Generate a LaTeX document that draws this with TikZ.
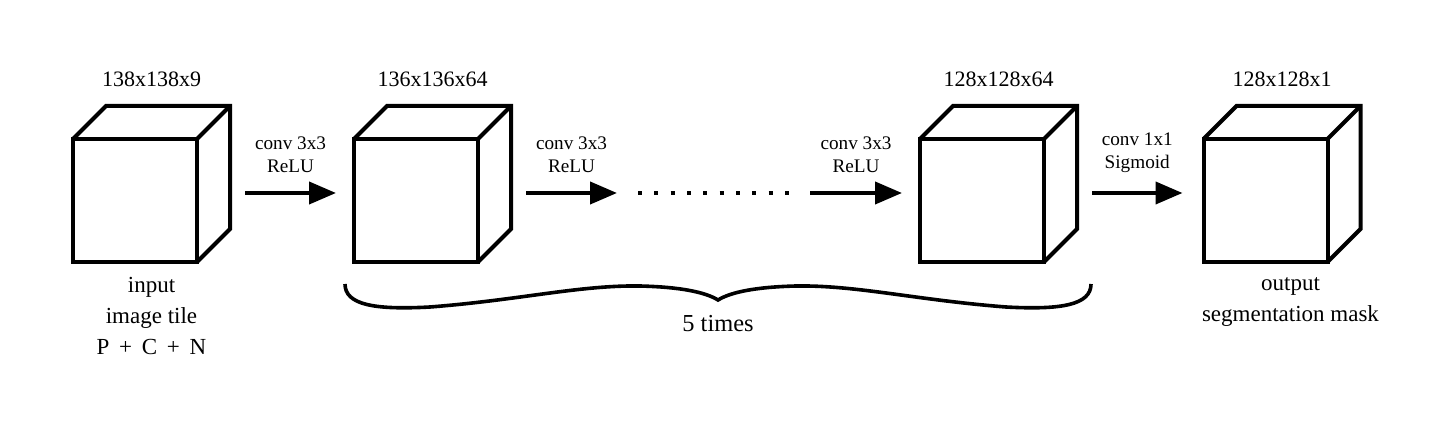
\documentclass[tikz,border=0pt]{standalone}
\usepackage{fontspec}
\setmainfont{Liberation Serif}
\usetikzlibrary{arrows.meta,calc}
\newcommand{\mycube}[3]{%
  \node[face] (#1) at (#2,#3) {};
  \draw[edge3d] (#1.north west) -- ++(33,-33) -- ++(124,0) -- ++(0,123) -- (#1.south east);
  \draw[edge3d] (#1.north east) -- ++(33,-33);
}
\begin{document}
\begin{tikzpicture}[x=0.5pt,y=-0.5pt,
  face/.style={draw,line width=2pt,minimum width=62pt,minimum height=61.5pt,inner sep=0pt,outer sep=0pt},
  edge3d/.style={line width=2pt},
  arr/.style={line width=2pt,-{Triangle[length=13.5pt,width=11pt]}},
  dots/.style={line width=2pt,dash pattern=on 2pt off 6.17pt},
  dimlbl/.style={font=\fontsize{11}{13}\selectfont,anchor=base,inner sep=0pt},
  oplbl/.style={font=\fontsize{9.6}{11.5}\selectfont,align=center,inner sep=0pt,above=9pt},
  sublbl/.style={font=\fontsize{11.5}{15.5}\selectfont,align=center,inner sep=0pt,anchor=north},
  bracestyle/.style={line width=1.8pt}
]
\useasboundingbox (0,0) rectangle (1449,426);

\mycube{c1}{135}{200.5}
\mycube{c2}{416}{200.5}
\mycube{c3}{982}{200.5}
\mycube{c4}{1265.5}{200.5}

\node[dimlbl] (d1) at ($(c1.north)+(16.5,-52)$) {138x138x9};
\node[dimlbl] (d2) at ($(c2.north)+(16.5,-52)$) {136x136x64};
\node[dimlbl] (d3) at ($(c3.north)+(16.5,-52)$) {128x128x64};
\node[dimlbl] (d4) at ($(c4.north)+(16.5,-52)$) {128x128x1};

\coordinate (a1s) at ($(c1.east)+(48,-7.5)$);
\coordinate (a1e) at ($(c2.west)+(-18,-7.5)$);
\coordinate (a2s) at ($(c2.east)+(48,-7.5)$);
\coordinate (a2e) at ($(c2.east)+(139,-7.5)$);
\coordinate (dts) at ($(c2.east)+(160,-7.5)$);
\coordinate (dte) at ($(c3.west)+(-130,-7.5)$);
\coordinate (a3s) at ($(c3.west)+(-110,-7.5)$);
\coordinate (a3e) at ($(c3.west)+(-18,-7.5)$);
\coordinate (a4s) at ($(c3.east)+(48,-7.5)$);
\coordinate (a4e) at ($(c4.west)+(-21,-7.5)$);

\draw[arr] (a1s) -- node[oplbl] (l1) {conv 3x3\\ReLU} (a1e);
\draw[arr] (a2s) -- node[oplbl] (l2) {conv 3x3\\ReLU} (a2e);
\draw[dots] (dts) -- (dte);
\draw[arr] (a3s) -- node[oplbl] (l3) {conv 3x3\\ReLU} (a3e);
\draw[arr] (a4s) -- node[oplbl] (l4) {conv 1x1\\Sigmoid} (a4e);

\node[sublbl] (in) at ($(c1.south)+(16.5,15)$) {input\\image tile\\P\hspace{2pt} + \hspace{2pt}C\hspace{2pt} + \hspace{2pt}N};
\node[sublbl] (out) at ($(c4.south)+(25,15)$) {output\\segmentation mask};

\draw[bracestyle] (345,284) .. controls (345,305) and (375,310) .. (430,307)
  .. controls (520,300) and (580,285) .. (640,286)
  .. controls (680,287) and (705,292) .. (718,300)
  .. controls (731,292) and (756,287) .. (796,286)
  .. controls (856,285) and (916,300) .. (1006,307)
  .. controls (1061,310) and (1091,305) .. (1091,284);
\node[font=\fontsize{12.2}{14}\selectfont,inner sep=0pt,anchor=base] (times) at (718,332) {5 times};
\end{tikzpicture}
\end{document}
